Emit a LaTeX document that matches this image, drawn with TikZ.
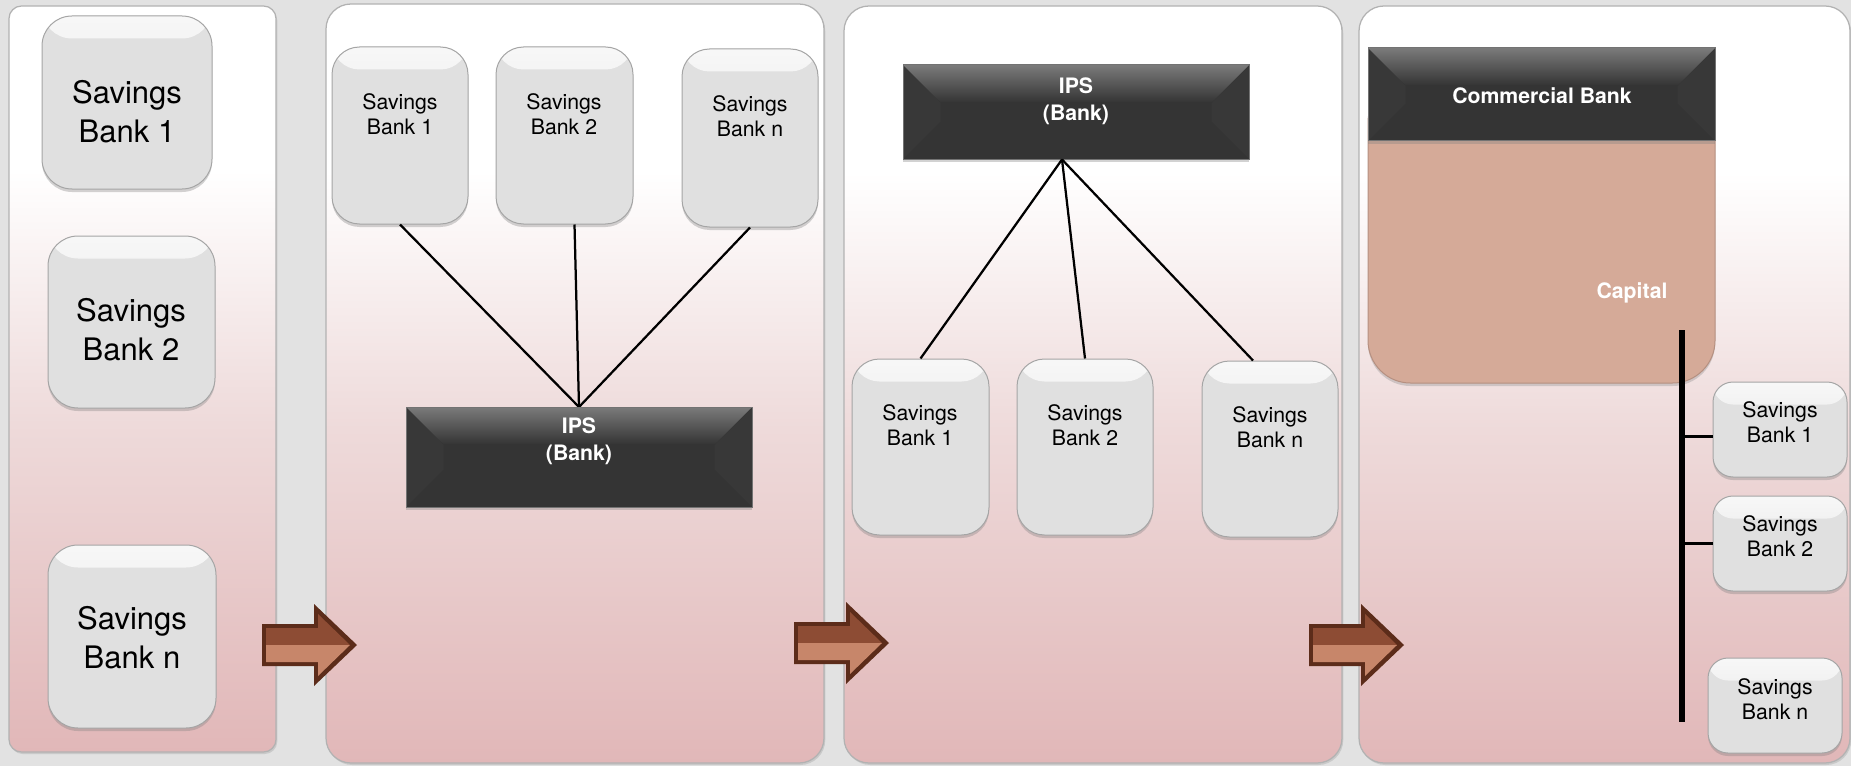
\documentclass[tikz,border=0pt]{standalone}
\usepackage{fontspec}
\setmainfont{TeX Gyre Heros}
\usetikzlibrary{shadows,fit,calc}
\definecolor{bg}{HTML}{E2E2E2}
\definecolor{pnk}{HTML}{E1B7B8}
\definecolor{pnkm}{HTML}{EEDADA}
\definecolor{pnkl}{HTML}{F9F2F2}
\definecolor{boxg}{HTML}{E0E0E0}
\definecolor{boxedge}{HTML}{A5A5A5}
\definecolor{dark}{HTML}{343434}
\definecolor{capc}{HTML}{D5AA98}
\definecolor{arrd}{HTML}{5C2C1A}
\definecolor{arrm}{HTML}{8D4C34}
\definecolor{arrl}{HTML}{C7866A}
\pgfdeclareverticalshading{panelshade}{100bp}{color(0bp)=(pnk); color(25bp)=(pnk); color(47bp)=(pnkm); color(58bp)=(pnkl); color(64bp)=(white); color(100bp)=(white)}
\tikzset{
  panel/.style={shading=panelshade, draw=black!30, line width=0.5pt,
    drop shadow={shadow xshift=0.5pt, shadow yshift=-0.8pt, opacity=0.25}},
  sbox/.style={rectangle, draw=boxedge, line width=0.4pt, fill=boxg, inner sep=0pt,
    drop shadow={shadow xshift=0pt, shadow yshift=-1.2pt, opacity=0.35},
    path picture={\fill[top color=white!97!black, bottom color=boxg]
      (path picture bounding box.north west) rectangle ([yshift=-9pt]path picture bounding box.north east);}},
  sboxA/.style={sbox, rounded corners=12pt},
  sboxB/.style={sbox, rounded corners=11pt},
  sboxC/.style={sbox, rounded corners=8pt},
  darkbox/.style={rectangle, draw=black!55, line width=0.4pt, fill=dark, inner sep=0pt,
    drop shadow={shadow xshift=0pt, shadow yshift=-1.2pt, opacity=0.35},
    path picture={
      \coordinate (nw) at (path picture bounding box.north west);
      \coordinate (se) at (path picture bounding box.south east);
      \fill[black!78] (nw) -- ([xshift=15pt,yshift=-15pt]nw) -- ([xshift=15pt,yshift=15pt]nw |- se) -- (nw |- se) -- cycle;
      \fill[black!78] (nw -| se) -- ([xshift=-15pt,yshift=-15pt]nw -| se) -- ([xshift=-15pt,yshift=15pt]se) -- (se) -- cycle;
      \fill[top color=black!52, bottom color=dark] (nw) -- (nw -| se) -- ([xshift=-15pt,yshift=-15pt]nw -| se) -- ([xshift=15pt,yshift=-15pt]nw) -- cycle;
    }},
  capbox/.style={rectangle, rounded corners=17pt, fill=capc, draw=capc!85!black, line width=0.4pt, inner sep=0pt,
    drop shadow={shadow xshift=0pt, shadow yshift=-1.2pt, opacity=0.3}},
  bigtxt/.style={align=center, font=\fontsize{12.4}{15.6}\selectfont, inner sep=0pt},
  smalltxt/.style={align=center, font=\fontsize{8.5}{10}\selectfont, inner sep=0pt},
  whitetxt/.style={align=center, text=white, font=\bfseries\fontsize{8.5}{10.8}\selectfont, inner sep=0pt},
  conn/.style={draw=black, line width=0.9pt},
  fatarrow/.pic={
    \fill[arrd] (0,-21) -- (52,-21) -- (52,-41) -- (95,0) -- (52,41) -- (52,21) -- (0,21) -- cycle;
    \fill[arrm] (4,0) -- (4,-17) -- (56,-17) -- (56,-31) -- (88,0) -- cycle;
    \fill[arrl] (4,0) -- (4,17) -- (56,17) -- (56,31) -- (88,0) -- cycle;
  }
}
\begin{document}
\begin{tikzpicture}[x=0.4pt, y=-0.4pt]
\useasboundingbox (0,0) rectangle (1851,766);
\fill[bg] (0,0) rectangle (1851,766);

% panels
\shade[panel, rounded corners=5pt] (9,6) rectangle (276,752);
\shade[panel, rounded corners=10pt] (326,4) rectangle (824,763);
\shade[panel, rounded corners=10pt] (844,6) rectangle (1342,763);
\shade[panel, rounded corners=10pt] (1359,6) rectangle (1850,763);

% arrows
\pic at (262,645) {fatarrow};
\pic at (794,643) {fatarrow};
\pic at (1309,645) {fatarrow};

% panel 1
\node[sboxA, fit={(42,16) (212,189)}] (a1) {};
\node[sboxA, fit={(48,236) (215,408)}] (a2) {};
\node[sboxA, fit={(48,545) (216,728)}] (an) {};
\node[bigtxt] (ta1) at (127,112) {Savings\\Bank 1};
\node[bigtxt] (ta2) at (131,330) {Savings\\Bank 2};
\node[bigtxt] (tan) at (132,638) {Savings\\Bank n};

% panel 2
\node[sboxB, fit={(332,47) (468,224)}] (b1) {};
\node[sboxB, fit={(496,47) (633,224)}] (b2) {};
\node[sboxB, fit={(682,49) (818,227)}] (bn) {};
\node[smalltxt] (tb1) at (400,114) {Savings\\Bank 1};
\node[smalltxt] (tb2) at (564,114) {Savings\\Bank 2};
\node[smalltxt] (tbn) at (750,116) {Savings\\Bank n};
\draw[conn] (b1.south) -- (579,407) coordinate (bapex);
\draw[conn] ($(b2.south)+(10,0)$) -- (bapex);
\draw[conn] (bn.south) -- (bapex);
\node[darkbox, fit={(406,407) (752,507)}] (bips) {};
\node[whitetxt] (tbips) at (579,441) {IPS\\(Bank)};

% panel 3
\node[darkbox, fit={(903,65) (1249,159)}] (cips) {};
\node[whitetxt] (tcips) at (1076,101) {IPS\\(Bank)};
\node[sboxB, fit={(852,359) (989,535)}] (c1) {};
\node[sboxB, fit={(1017,359) (1153,535)}] (c2) {};
\node[sboxB, fit={(1202,361) (1338,537)}] (cn) {};
\node[smalltxt] (tc1) at (920,425) {Savings\\Bank 1};
\node[smalltxt] (tc2) at (1085,425) {Savings\\Bank 2};
\node[smalltxt] (tcn) at (1270,427) {Savings\\Bank n};
\coordinate (capex) at ($(cips.south)+(-14,0)$);
\draw[conn] (capex) -- (c1.north);
\draw[conn] (capex) -- (c2.north);
\draw[conn] (capex) -- ($(cn.north)+(-17,0)$);

% panel 4
\node[capbox, fit={(1368,80) (1715,383)}] (cap) {};
\node[darkbox, fit={(1368,48) (1715,141)}] (cb) {};
\node[whitetxt] (tcb) at (1542,96) {Commercial Bank};
\node[whitetxt] (tcap) at (1632,293) {Capital};
\node[sboxC, fit={(1713,382) (1847,477)}] (d1) {};
\node[sboxC, fit={(1713,496) (1847,591)}] (d2) {};
\node[sboxC, fit={(1708,658) (1842,753)}] (dn) {};
\node[smalltxt] (td1) at (1780,422) {Savings\\Bank 1};
\node[smalltxt] (td2) at (1780,536) {Savings\\Bank 2};
\node[smalltxt] (tdn) at (1775,699) {Savings\\Bank n};
\coordinate (vt) at (1682,330);
\coordinate (vb) at (1682,722);
\coordinate (d1c) at ($(d1.west)+(0,7)$);
\draw[line width=2.6pt] (vt) -- (vb);
\draw[conn] (d1c) -- (d1c -| vt);
\draw[conn] (d2.west) -- (d2.west -| vt);
\end{tikzpicture}
\end{document}
